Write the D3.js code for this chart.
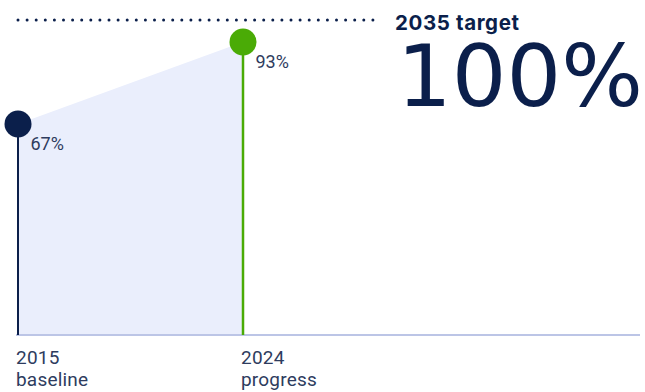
<!DOCTYPE html>
<html>
<head>
<meta charset="utf-8">
<script src="https://cdn.jsdelivr.net/npm/d3@7"></script>
<style>
  html, body { margin: 0; padding: 0; background: #ffffff; }
  svg { display: block; }
</style>
</head>
<body>
<script>
// Share of progress toward the 2035 goal
const years = [2015, 2024];
const yearLabels = ["2015", "2024"];
const stageLabels = ["baseline", "progress"];
const values = [67, 93];
const targetYear = 2035;
const targetValue = 100;
const targetLabel = "2035 target";

const W = 645, H = 392;
const navy = "#0b1f4b";
const green = "#4aab06";
const labelColor = "#2e3c5e";
const pointColors = [navy, green];

const svg = d3.select("body").append("svg")
  .attr("width", W).attr("height", H);

const x = d3.scaleLinear().domain([years[0], years[1]]).range([18, 243]);
const y = d3.scaleLinear().domain([0, targetValue]).range([335, 20]);

const pts = years.map((yr, i) => ({ year: yr, value: values[i], i }));

// shaded area under the progress line
svg.append("path")
  .datum(pts)
  .attr("fill", "#eaeefc")
  .attr("d", d3.area().x(d => x(d.year)).y0(y(0)).y1(d => y(d.value)));

// baseline axis
svg.append("line")
  .attr("x1", 16).attr("x2", 640)
  .attr("y1", y(0)).attr("y2", y(0))
  .attr("stroke", "#bcc5e6").attr("stroke-width", 2);

// dotted target line
svg.append("line")
  .attr("x1", x(years[0])).attr("x2", 378)
  .attr("y1", y(targetValue)).attr("y2", y(targetValue))
  .attr("stroke", navy).attr("stroke-width", 3)
  .attr("stroke-linecap", "round")
  .attr("stroke-dasharray", "0 9.1");

// stems
svg.selectAll("line.stem").data(pts).join("line")
  .attr("class", "stem")
  .attr("x1", d => x(d.year)).attr("x2", d => x(d.year))
  .attr("y1", d => y(d.value)).attr("y2", y(0))
  .attr("stroke", d => pointColors[d.i])
  .attr("stroke-width", d => d.i === 0 ? 2 : 2.5);

// markers
svg.selectAll("circle.pt").data(pts).join("circle")
  .attr("class", "pt")
  .attr("cx", d => x(d.year)).attr("cy", d => y(d.value))
  .attr("r", 13.5)
  .attr("fill", d => pointColors[d.i]);

// value labels
svg.selectAll("text.val").data(pts).join("text")
  .attr("class", "val")
  .attr("x", d => x(d.year) + 12.5)
  .attr("y", d => y(d.value) + 26)
  .attr("font-family", "Roboto, sans-serif")
  .attr("font-size", 18)
  .attr("fill", labelColor)
  .text(d => d.value + "%");

// category labels
const cat = svg.selectAll("text.cat").data(pts).join("text")
  .attr("class", "cat")
  .attr("font-family", "Roboto, sans-serif")
  .attr("font-size", 19)
  .attr("letter-spacing", 0.2)
  .attr("fill", labelColor);
cat.append("tspan")
  .attr("x", d => x(d.year) - 2)
  .attr("y", 363.5)
  .text(d => yearLabels[d.i]);
cat.append("tspan")
  .attr("x", d => x(d.year) - 2)
  .attr("dy", 22.5)
  .text(d => stageLabels[d.i]);

// target annotation
svg.append("text")
  .attr("x", 395).attr("y", 29.5)
  .attr("font-family", "Inter, sans-serif")
  .attr("font-weight", 700)
  .attr("font-size", 20.5)
  .attr("letter-spacing", 0.6)
  .attr("fill", navy)
  .text(targetLabel);

svg.append("text")
  .attr("x", 397).attr("y", 106)
  .attr("font-family", "'DejaVu Sans', sans-serif")
  .attr("font-size", 86)
  .attr("fill", navy)
  .text(targetValue + "%");
</script>
</body>
</html>
